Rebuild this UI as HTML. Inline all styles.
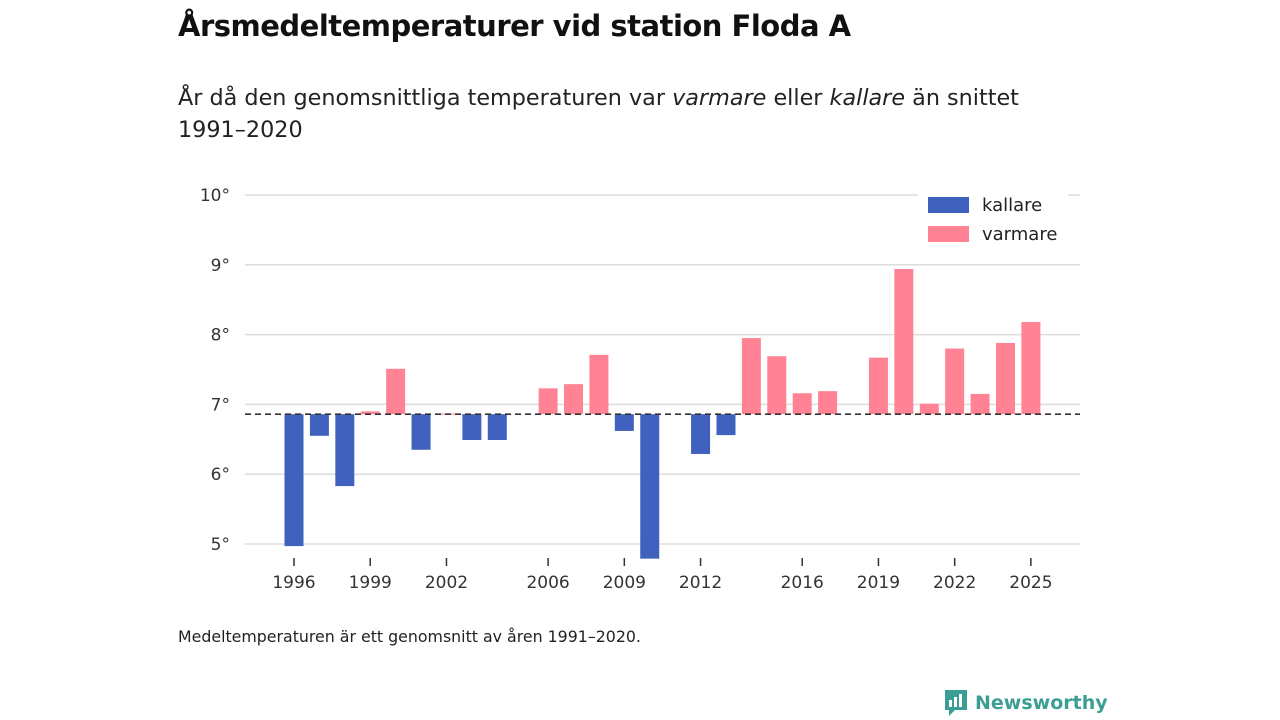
<!DOCTYPE html>
<html><head><meta charset="utf-8"><style>
body{margin:0;width:1280px;height:720px;background:#fff;font-family:"DejaVu Sans","Liberation Sans",sans-serif;color:#111;position:relative;overflow:hidden}
.t{position:absolute;left:178px;top:9px;font-size:29px;font-weight:bold;letter-spacing:-0.5px}
.s{position:absolute;left:178px;top:82px;font-size:22.3px;line-height:32px;width:900px;color:#222}
.n{position:absolute;left:178px;top:627px;font-size:15.8px;color:#222}
</style></head><body>
<div class="t">Årsmedeltemperaturer vid station Floda A</div>
<div class="s">År då den genomsnittliga temperaturen var <i>varmare</i> eller <i>kallare</i> än snittet 1991–2020</div>
<div class="n">Medeltemperaturen är ett genomsnitt av åren 1991–2020.</div>
<svg width="1280" height="720" style="position:absolute;left:0;top:0" id="c"></svg>
<div style="position:absolute;left:943px;top:688px;display:flex;align-items:center;color:#3a9e95;font-weight:bold;font-size:19px">
<svg width="26" height="30" viewBox="0 0 26 30"><path d="M2 2h22v20H12l-6 6v-6H2z" fill="#3a9e95"/><rect x="6" y="12" width="3" height="7" fill="#fff"/><rect x="11" y="9" width="3" height="10" fill="#fff"/><rect x="16" y="6" width="3" height="13" fill="#fff"/></svg>
<span style="margin-left:6px">Newsworthy</span></div>
<script>
const years=[1996,1997,1998,1999,2000,2001,2002,2003,2004,2005,2006,2007,2008,2009,2010,2011,2012,2013,2014,2015,2016,2017,2018,2019,2020,2021,2022,2023,2024,2025];
const temps=[4.97,6.55,5.83,6.90,7.51,6.35,6.87,6.49,6.49,null,7.23,7.29,7.71,6.62,4.79,null,6.29,6.56,7.95,7.69,7.16,7.19,null,7.67,8.94,7.01,7.80,7.15,7.88,8.18];
const yTicks=[5,6,7,8,9,10];
const xTicks=[1996,1999,2002,2006,2009,2012,2016,2019,2022,2025];
const mean=6.86;
const svg=document.getElementById('c');const NS='http://www.w3.org/2000/svg';
const x=y=>294+(y-1996)*25.41;
const yy=v=>544-(v-5)*69.8;
function mk(t,a,p){const e=document.createElementNS(NS,t);for(const k in a)e.setAttribute(k,a[k]);(p||svg).appendChild(e);return e;}
yTicks.forEach(v=>{
const l=mk('line',{x1:245,x2:1080,y1:yy(v),y2:yy(v),stroke:'#ddd','stroke-width':1.5});


const t=mk('text',{x:230,y:yy(v)+6,'text-anchor':'end','font-size':17,fill:'#333'});t.textContent=v+'°';


});
xTicks.forEach(v=>{
const l=mk('line',{x1:x(v),x2:x(v),y1:558,y2:566,stroke:'#333','stroke-width':1.5});


const t=mk('text',{x:x(v),y:588,'text-anchor':'middle','font-size':17,fill:'#333'});t.textContent=v;


});
years.forEach((yr,i)=>{const v=temps[i];if(v==null)return;
const a=yy(Math.max(v,mean)),b=yy(Math.min(v,mean));
const r=mk('rect',{x:x(yr)-9.5,y:a,width:19,height:Math.max(b-a,1),fill:v>=mean?'#ff8394':'#4062be'});


});
const m=mk('line',{x1:245,x2:1080,y1:yy(mean),y2:yy(mean),stroke:'#333','stroke-width':1.6,'stroke-dasharray':'6,4'});


const bg=mk('rect',{x:918,y:186,width:150,height:62,fill:'#fff'});


[['kallare','#4062be',205],['varmare','#ff8394',234]].forEach(([n,c,y])=>{
const r=mk('rect',{x:928,y:y-8,width:41,height:16,fill:c});


const t=mk('text',{x:982,y:y+6,'font-size':18,fill:'#222'});t.textContent=n;


});
</script>
</body></html>
